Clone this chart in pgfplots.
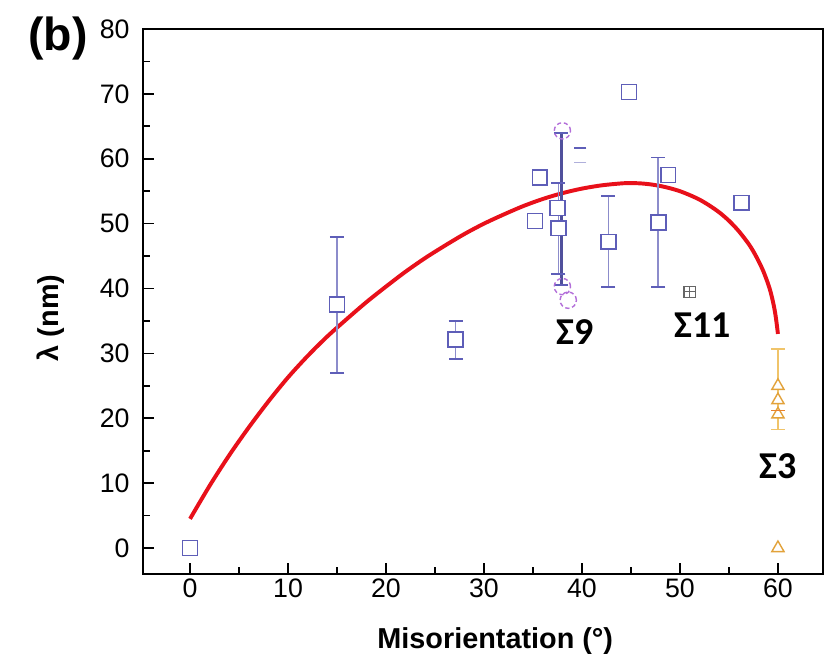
\documentclass[border=0pt]{standalone}
\usepackage{fontspec}
\setmainfont{Liberation Sans}
\newfontfamily\sigfont{Carlito}
\usepackage{pgfplots}
\pgfplotsset{compat=1.18}
\usetikzlibrary{calc}
\definecolor{sqblue}{HTML}{5E5EB8}
\definecolor{errblue}{HTML}{8C8CCB}
\definecolor{circpurp}{HTML}{B36FD9}
\definecolor{triorange}{HTML}{E2A23A}
\definecolor{errorange}{HTML}{F0C46A}
\definecolor{fitred}{HTML}{E8101A}

\begin{document}
\begin{tikzpicture}
\begin{axis}[name=ax,scale only axis,width=17cm,height=13.625cm,
 xmin=-4.8,xmax=64.6,ymin=-4,ymax=80,
 xtick={0,10,...,60},ytick={0,10,...,80},
 minor xtick={5,15,...,55},minor ytick={5,15,...,75},
 tick align=inside,xtick pos=bottom,ytick pos=left,
 major tick length=8pt,minor tick length=5pt,
 every tick/.style={black,line width=1.2pt},
 axis line style={line width=1.4pt},
 /pgf/number format/assume math mode=true,
 tick label style={font=\fontsize{19}{22}\selectfont},
 yticklabel style={xshift=-6pt},
 xlabel={\bfseries Misorientation (°)},ylabel={\bfseries λ (nm)},
 label style={font=\fontsize{20.5}{24}\selectfont},
 xlabel style={at={(axis description cs:0.518,-0.09)},anchor=north},
 ylabel style={at={(axis description cs:-0.108,0.47)},anchor=south},
 clip=false]

% fitted curve
\addplot[fitred,line width=2.8pt,smooth] coordinates {
 (0,4.5) (2,9.6) (4,14.3) (6,18.6) (8,22.6) (10,26.3) (12,29.6) (14,32.6)
 (16,35.3) (18,37.9) (20,40.3) (22,42.6) (24,44.7) (26,46.6) (28,48.4)
 (30,50.0) (32,51.4) (34,52.7) (36,53.8) (38,54.7) (40,55.4) (42,55.9)
 (44,56.2) (45,56.25) (46,56.2) (47,56.05) (48,55.8) (49,55.45) (50,55.0)
 (51,54.4) (52,53.7) (53,52.8) (54,51.75) (55,50.45) (56,48.85) (57,46.9)
 (57.5,45.7) (58,44.3) (58.5,42.7) (59,40.7) (59.3,39.2) (59.6,37.2)
 (59.8,35.4) (60,33.0)};

% error bar without marker at 38
\addplot[draw=none,mark=none,error bars/.cd,y dir=both,y explicit,
 error bar style={color=sqblue!85!black,line width=1.6pt},
 error mark options={rotate=90,color=sqblue,mark size=5pt,line width=1.4pt}]
 coordinates {(37.9,52.25) +- (0,11.75)};

% squares with error bars
\addplot[only marks,mark=square*,mark size=5.3pt,
 mark options={fill=white,draw=sqblue,line width=1.2pt},
 error bars/.cd,y dir=both,y explicit,
 error bar style={color=errblue,line width=1.3pt},
 error mark options={rotate=90,color=sqblue,mark size=5pt,line width=1.3pt}]
 coordinates {
 (15,37.5) +- (0,10.5)
 (27.1,32.1) +- (0,2.9)
 (37.6,49.3) +- (0,7.0)
 (42.7,47.2) +- (0,7.0)
 (47.8,50.2) +- (0,10.0)
 };

% squares without error bars
\addplot[only marks,mark=square*,mark size=5.3pt,
 mark options={fill=white,draw=sqblue,line width=1.2pt}]
 coordinates {(0,0) (35.7,57.1) (35.2,50.4) (37.5,52.4) (44.8,70.3)
 (48.8,57.5) (56.3,53.2)};

% circles
\addplot[only marks,mark=o,mark size=5.8pt,
 mark options={draw=circpurp,line width=1pt,densely dashed}]
 coordinates {(38,64.3) (38,40.3) (38.6,38.2)};

% dashes
\addplot[only marks,mark=-,mark size=4.5pt,mark options={draw=sqblue,line width=1.3pt}]
 coordinates {(39.8,61.7)};
\addplot[only marks,mark=-,mark size=4.5pt,mark options={draw=errblue!70,line width=1.2pt}]
 coordinates {(39.8,59.4)};

% crossed square
\addplot[only marks,mark=square,mark size=4pt,mark options={draw=black!60,line width=0.9pt}]
 coordinates {(51,39.5)};
\addplot[only marks,mark=+,mark size=4pt,mark options={draw=black!60,line width=0.9pt}]
 coordinates {(51,39.5)};

% Sigma 3 triangles
\addplot[draw=none,mark=none,error bars/.cd,y dir=both,y explicit,
 error bar style={color=errorange,line width=1pt},
 error mark options={rotate=90,color=errorange,mark size=5pt,line width=1pt}]
 coordinates {(60,24.5) +- (0,6.2)};
\addplot[only marks,mark=triangle*,mark size=5pt,
 mark options={fill=white,draw=triorange,line width=1pt}]
 coordinates {(60,25) (60,22.8) (60,20.6) (60,0)};
\addplot[only marks,mark=-,mark size=5pt,mark options={draw=triorange!80!red,line width=1.4pt}]
 coordinates {(60,21.2)};

\node[font=\sigfont\bfseries\fontsize{27}{29}\selectfont] at (axis cs:39.3,33.3) {Σ9};
\node[font=\sigfont\bfseries\fontsize{27}{29}\selectfont] at (axis cs:52.3,34.4) {Σ11};
\node[font=\sigfont\bfseries\fontsize{27}{29}\selectfont] at (axis cs:60,12.6) {Σ3};
\node[font=\bfseries\fontsize{33}{35}\selectfont] at (axis description cs:-0.125,0.983) {(b)};
\end{axis}
\pgfresetboundingbox
\path[use as bounding box] ($(ax.south west)+(-3.575cm,-2.35cm)$) rectangle ($(ax.north east)+(0.375cm,0.725cm)$);
\end{tikzpicture}
\end{document}
